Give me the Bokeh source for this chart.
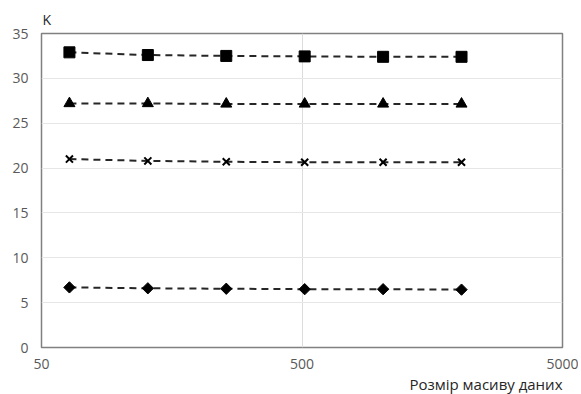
import math
from bokeh.plotting import figure
from bokeh.models import FixedTicker, Range1d, Title
from bokeh.embed import file_html
from bokeh.resources import INLINE

sizes = [64, 128, 256, 512, 1024, 2048]
series_square = [32.9, 32.6, 32.5, 32.45, 32.4, 32.4]
series_triangle = [27.2, 27.2, 27.15, 27.15, 27.15, 27.15]
series_x = [21.0, 20.8, 20.7, 20.65, 20.65, 20.65]
series_diamond = [6.7, 6.6, 6.55, 6.5, 6.5, 6.45]
x_ticks = [50, 500, 5000]
y_ticks = [0, 5, 10, 15, 20, 25, 30, 35]
x_title = "Розмір масиву даних"
y_title = "K"

FONT = "Open Sans"
GREY = "#595959"

p = figure(width=578, height=394, x_axis_type="log", output_backend="svg",
           toolbar_location=None, x_range=Range1d(50, 5000), y_range=Range1d(0, 35),
           min_border_left=41, min_border_right=16, min_border_top=33, min_border_bottom=47)

p.outline_line_color = "#808080"
p.outline_line_width = 1.5
p.background_fill_color = "white"
p.border_fill_color = "white"

p.xaxis.ticker = FixedTicker(ticks=x_ticks)
p.yaxis.ticker = FixedTicker(ticks=y_ticks)
for ax in (p.xaxis, p.yaxis):
    ax.axis_line_color = None
    ax.major_tick_line_color = None
    ax.minor_tick_line_color = None
    ax.major_tick_out = 0
    ax.major_tick_in = 0
    ax.minor_tick_out = 0
    ax.minor_tick_in = 0
    ax.major_label_text_font = FONT
    ax.major_label_text_font_size = "14px"
    ax.major_label_text_color = GREY
p.xaxis.major_label_standoff = 11
p.yaxis.major_label_standoff = 13
p.xaxis.major_label_overrides = {50: "50", 500: "500", 5000: "5000"}

p.xgrid.ticker = FixedTicker(ticks=[500])
p.xgrid.grid_line_color = "#dcdcdc"
p.ygrid.grid_line_color = "#e6e6e6"
p.xgrid.minor_grid_line_color = None

line_kw = dict(line_color="#262626", line_width=2, line_dash="7 5")
p.line(sizes, series_square, **line_kw)
p.line(sizes, series_triangle, **line_kw)
p.line(sizes, series_x, **line_kw)
p.line(sizes, series_diamond, **line_kw)

p.scatter(sizes, series_square, marker="square", size=11, fill_color="black", line_color="black")
p.scatter(sizes, series_triangle, marker="triangle", size=11, fill_color="black", line_color="black")
p.scatter(sizes, series_x, marker="x", size=10, line_color="black", line_width=2)
p.scatter(sizes, series_diamond, marker="square", size=8, angle=math.pi / 4,
          fill_color="black", line_color="black")

p.add_layout(Title(text=x_title, align="right", text_font=FONT, text_font_size="15px",
                   text_font_style="normal", text_color="#262626", standoff=0), "below")
p.add_layout(Title(text=y_title, align="left", text_font=FONT, text_font_size="14px",
                   text_font_style="normal", text_color="#262626", offset=1), "above")

open("out.html", "w").write(file_html(p, INLINE))
